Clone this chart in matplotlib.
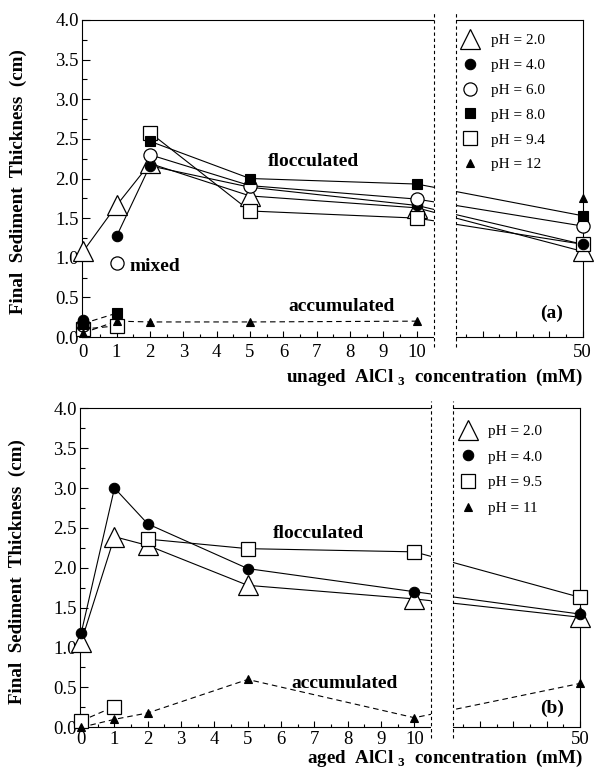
import numpy as np
import matplotlib
matplotlib.use("Agg")
import matplotlib.pyplot as plt
from matplotlib.patches import Rectangle
from matplotlib.lines import Line2D
from matplotlib.ticker import FixedLocator, FixedFormatter, MultipleLocator, FormatStrFormatter

plt.rcParams["font.family"] = "Liberation Serif"
plt.rcParams["mathtext.fontset"] = "custom"
plt.rcParams["mathtext.rm"] = "Liberation Serif"
plt.rcParams["mathtext.bf"] = "Liberation Serif:bold"

# AlCl3 concentrations (mM)
conc = [0, 1, 2, 5, 10, 50]

# (a) unaged AlCl3 -- final sediment thickness (cm)
unaged_ph2 = [1.08, 1.66, 2.19, 1.78, 1.63, 1.08]
unaged_ph4 = [0.22, 1.27, 2.16, 1.89, 1.66, 1.17]
unaged_ph6 = [0.15, 0.93, 2.30, 1.91, 1.74, 1.40]
unaged_ph8 = [0.17, 0.30, 2.47, 2.00, 1.93, 1.53]
unaged_ph94 = [0.10, 0.14, 2.58, 1.59, 1.50, 1.17]
unaged_ph12 = [0.05, 0.20, 0.19, 0.19, 0.20, 1.76]
unaged_labels = ["pH = 2.0", "pH = 4.0", "pH = 6.0", "pH = 8.0", "pH = 9.4", "pH = 12"]

# (b) aged AlCl3 -- final sediment thickness (cm)
aged_ph2 = [1.07, 2.39, 2.28, 1.78, 1.61, 1.38]
aged_ph4 = [1.18, 3.00, 2.55, 1.99, 1.70, 1.42]
aged_ph95 = [0.08, 0.26, 2.36, 2.24, 2.20, 1.63]
aged_ph11 = [0.00, 0.10, 0.18, 0.60, 0.12, 0.55]
aged_labels = ["pH = 2.0", "pH = 4.0", "pH = 9.5", "pH = 11"]

y_ticks = [0.0, 0.5, 1.0, 1.5, 2.0, 2.5, 3.0, 3.5, 4.0]
x_major = [0, 1, 2, 3, 4, 5, 6, 7, 8, 9, 10, 47, 48, 49, 50]
x_major_labels = ["0", "1", "2", "3", "4", "5", "6", "7", "8", "9", "10", "", "", "", "50"]
x_minor = [0.5, 1.5, 2.5, 3.5, 4.5, 5.5, 6.5, 7.5, 8.5, 9.5, 46.5, 47.5, 48.5, 49.5]

# broken x axis: 0-10.5 | 46.2-50, joined by a narrow squeezed gap
BREAK_LO, BREAK_HI, GAP = 10.5, 46.2, 0.67


def fwd(x):
    x = np.asarray(x, dtype=float)
    return np.where(x <= BREAK_LO, x,
                    np.where(x >= BREAK_HI, x - BREAK_HI + BREAK_LO + GAP,
                             BREAK_LO + (x - BREAK_LO) * GAP / (BREAK_HI - BREAK_LO)))


def inv(u):
    u = np.asarray(u, dtype=float)
    return np.where(u <= BREAK_LO, u,
                    np.where(u >= BREAK_LO + GAP, u - BREAK_LO - GAP + BREAK_HI,
                             BREAK_LO + (u - BREAK_LO) * (BREAK_HI - BREAK_LO) / GAP))


SOLID = "-"
DASH = (0, (5, 3.5))

# marker styles
BIG_TRI = dict(marker="^", ms=14, mfc="white", mec="black", mew=0.9)
DOT = dict(marker="o", ms=7.5, mfc="black", mec="black", mew=0.8)
RING = dict(marker="o", ms=9.5, mfc="white", mec="black", mew=0.9)
BLOCK = dict(marker="s", ms=7.5, mfc="black", mec="black", mew=0.8)
BOX = dict(marker="s", ms=9.5, mfc="white", mec="black", mew=0.9)
SMALL_TRI = dict(marker="^", ms=5.5, mfc="black", mec="black", mew=0.8)


def draw_series(ax, values, style, segments, z):
    for i0, i1, ls in segments:
        ax.plot(conc[i0:i1 + 1], values[i0:i1 + 1], ls=ls, color="black",
                lw=0.8, zorder=1.5)
    ax.plot(conc, values, ls="none", zorder=z, clip_on=False, **style)


def setup_axes(ax, xpad):
    ax.set_xscale("function", functions=(fwd, inv))
    ax.set_xlim(-0.05, 50)
    ax.set_ylim(0, 4)
    ax.xaxis.set_major_locator(FixedLocator(x_major))
    ax.xaxis.set_major_formatter(FixedFormatter(x_major_labels))
    ax.xaxis.set_minor_locator(FixedLocator(x_minor))
    ax.yaxis.set_major_locator(FixedLocator(y_ticks))
    ax.yaxis.set_minor_locator(MultipleLocator(0.25))
    ax.yaxis.set_major_formatter(FormatStrFormatter("%.1f"))
    ax.tick_params(axis="both", which="both", direction="in", top=False, right=False)
    ax.tick_params(axis="y", which="major", length=5.5, width=0.8, labelsize=13.5, pad=2)
    ax.tick_params(axis="y", which="minor", length=3.5, width=0.8)
    ax.tick_params(axis="x", which="major", length=4.5, width=0.8, labelsize=13.5, pad=xpad)
    ax.tick_params(axis="x", which="minor", length=2.5, width=0.8)
    for sp in ax.spines.values():
        sp.set_linewidth(0.8)
    # hide the squeezed gap and mark the break with dashed lines
    xt = ax.get_xaxis_transform()
    ax.add_patch(Rectangle((BREAK_LO, -0.04), BREAK_HI - BREAK_LO, 1.08, transform=xt,
                           facecolor="white", edgecolor="none", zorder=2.6, clip_on=False))
    for xb in (BREAK_LO, BREAK_HI):
        ax.plot([xb, xb], [-0.032, 1.022], transform=xt, color="black", lw=0.8,
                ls=(0, (3, 2.5)), zorder=3, clip_on=False)
    ax.set_ylabel("Final  Sediment  Thickness  (cm)", fontsize=13.7, fontweight="bold")
    ax.yaxis.set_label_coords(-0.109, 0.49)


fig = plt.figure(figsize=(5.98, 7.75), dpi=100)
W, H = 598, 775
ax_a = fig.add_axes([81.5 / W, 1 - 337 / H, (582.7 - 81.5) / W, 317 / H])
ax_b = fig.add_axes([79.5 / W, 1 - 727.3 / H, (580 - 79.5) / W, 319 / H])

# ---- (a) unaged ----
setup_axes(ax_a, 5)
draw_series(ax_a, unaged_ph2, BIG_TRI, [(0, 5, SOLID)], 3.0)
draw_series(ax_a, unaged_ph94, BOX, [(0, 1, DASH), (2, 5, SOLID)], 3.1)
draw_series(ax_a, unaged_ph4, DOT, [(1, 5, SOLID)], 3.2)
draw_series(ax_a, unaged_ph6, RING, [(2, 5, SOLID)], 3.3)
draw_series(ax_a, unaged_ph8, BLOCK, [(0, 1, DASH), (2, 5, SOLID)], 3.4)
draw_series(ax_a, unaged_ph12, SMALL_TRI, [(0, 4, DASH)], 3.5)

ax_a.text(6.91, 2.21, "flocculated", fontsize=14, fontweight="bold", ha="center", va="center")
ax_a.text(2.14, 0.89, "mixed", fontsize=14, fontweight="bold", ha="center", va="center")
ax_a.text(7.73, 0.38, "accumulated", fontsize=14, fontweight="bold", ha="center", va="center")
ax_a.text(0.938, 0.075, "(a)", transform=ax_a.transAxes, fontsize=14, fontweight="bold",
          ha="center", va="center")

handles_a = [Line2D([], [], ls="none", **s) for s in (BIG_TRI, DOT, RING, BLOCK, BOX, SMALL_TRI)]
fig.legend(handles_a, unaged_labels, loc="upper left",
           bbox_to_anchor=(458.7 / W, 1 - 33.5 / H), frameon=False, fontsize=11,
           handlelength=1.5, handletextpad=0.6, labelspacing=0.73, borderpad=0,
           borderaxespad=0, numpoints=1)

fig.text(583 / W, 1 - 377 / H, r"unaged  AlCl $_{\mathbf{3}}$  concentration  (mM)",
         fontsize=13.7, fontweight="bold", ha="right", va="center")

# ---- (b) aged ----
setup_axes(ax_b, 3)
ax_b.yaxis.set_label_coords(-0.106, 0.488)
draw_series(ax_b, aged_ph2, BIG_TRI, [(0, 5, SOLID)], 3.0)
draw_series(ax_b, aged_ph95, BOX, [(0, 1, DASH), (2, 5, SOLID)], 3.1)
draw_series(ax_b, aged_ph4, DOT, [(0, 5, SOLID)], 3.2)
draw_series(ax_b, aged_ph11, SMALL_TRI, [(0, 5, DASH)], 3.5)

ax_b.text(7.13, 2.43, "flocculated", fontsize=14, fontweight="bold", ha="center", va="center")
ax_b.text(7.9, 0.55, "accumulated", fontsize=14, fontweight="bold", ha="center", va="center")
ax_b.text(0.945, 0.06, "(b)", transform=ax_b.transAxes, fontsize=14, fontweight="bold",
          ha="center", va="center")

handles_b = [Line2D([], [], ls="none", **s) for s in (BIG_TRI, DOT, BOX, SMALL_TRI)]
fig.legend(handles_b, aged_labels, loc="upper left",
           bbox_to_anchor=(456.3 / W, 1 - 424.5 / H), frameon=False, fontsize=11,
           handlelength=1.5, handletextpad=0.6, labelspacing=0.78, borderpad=0,
           borderaxespad=0, numpoints=1)

fig.text(583 / W, 1 - 758 / H, r"aged  AlCl $_{\mathbf{3}}$  concentration  (mM)",
         fontsize=13.7, fontweight="bold", ha="right", va="center")

fig.savefig("out.png", dpi=100)
